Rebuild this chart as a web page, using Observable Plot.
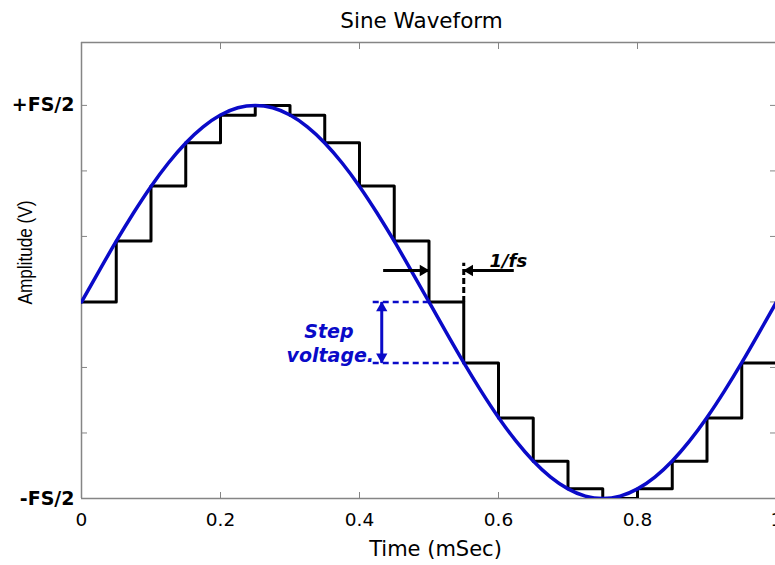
<!DOCTYPE html>
<html><head><meta charset="utf-8">
<script src="https://cdn.jsdelivr.net/npm/d3@7"></script>
<script src="https://cdn.jsdelivr.net/npm/@observablehq/plot@0.6"></script>
<style>body{margin:0;background:#fff} svg{display:block}</style>
</head><body><div id="chart"></div>
<script>
// ---- data ----
const sampleTimes  = [0, 0.05, 0.10, 0.15, 0.20, 0.25, 0.30, 0.35, 0.40, 0.45, 0.50, 0.55, 0.60, 0.65, 0.70, 0.75, 0.80, 0.85, 0.90, 0.95, 1.00];
const sampleValues = [0, 0.31, 0.59, 0.81, 0.95, 1.00, 0.95, 0.81, 0.59, 0.31, 0, -0.31, -0.59, -0.81, -0.95, -1.00, -0.95, -0.81, -0.59, -0.31, 0];
const sineTimes  = [0, 0.025, 0.05, 0.075, 0.10, 0.125, 0.15, 0.175, 0.20, 0.225, 0.25, 0.275, 0.30, 0.325, 0.35, 0.375, 0.40, 0.425, 0.45, 0.475, 0.50,
                    0.525, 0.55, 0.575, 0.60, 0.625, 0.65, 0.675, 0.70, 0.725, 0.75, 0.775, 0.80, 0.825, 0.85, 0.875, 0.90, 0.925, 0.95, 0.975, 1.00];
const sineValues = [0, 0.156, 0.309, 0.454, 0.588, 0.707, 0.809, 0.891, 0.951, 0.988, 1, 0.988, 0.951, 0.891, 0.809, 0.707, 0.588, 0.454, 0.309, 0.156, 0,
                    -0.156, -0.309, -0.454, -0.588, -0.707, -0.809, -0.891, -0.951, -0.988, -1, -0.988, -0.951, -0.891, -0.809, -0.707, -0.588, -0.454, -0.309, -0.156, 0];
const xTicks = [0, 0.2, 0.4, 0.6, 0.8, 1];
const xTickLabels = ["0", "0.2", "0.4", "0.6", "0.8", "1"];
const yTicks = [-1, -2/3, -1/3, 0, 1/3, 2/3, 1];
const yTickLabels = ["-FS/2", "", "", "", "", "", "+FS/2"];
const yDomain = [-1, 1.32];
const xDomain = [0, 1];
const titleText = "Sine Waveform";
const xLabelText = "Time (mSec)";
const yLabelText = "Amplitude (V)";
// annotations (data coordinates)
const periodArrows = [ {x1: 0.434, x2: 0.50, y: 0.16}, {x1: 0.622, x2: 0.55, y: 0.16} ];
const periodMarker = {x: 0.55, y1: 0, y2: 0.20};
const periodLabel = {x: 0.587, y: 0.18, text: "1/fs"};
const stepLevels = [ {x1: 0.419, x2: 0.50, y: 0}, {x1: 0.419, x2: 0.55, y: -0.31} ];
const stepArrow = {x: 0.432, y1: 0, y2: -0.31};
const stepLabels = [ {x: 0.356, y: -0.181, text: "Step"}, {x: 0.358, y: -0.303, text: "voltage."} ];

// ---- tables ----
const steps = sampleTimes.map((t, i) => ({t, v: sampleValues[i]}));
const sine = sineTimes.map((t, i) => ({t, v: sineValues[i]}));
const xLab = new Map(xTicks.map((t, i) => [t, xTickLabels[i]]));
const yLab = new Map(yTicks.map((t, i) => [t, yTickLabels[i]]));

const BLUE = "#0a0ac8";
const GREY = "#858585";
const W = 775, H = 565;
const mL = 81, mT = 42, mB = 67, mR = 0;

const chart = Plot.plot({
  width: W, height: H,
  marginLeft: mL, marginRight: mR, marginTop: mT, marginBottom: mB,
  style: {fontFamily: "DejaVu Sans", background: "white", color: "black", overflow: "visible"},
  x: {domain: xDomain, range: [mL, W + 1]},
  y: {domain: yDomain},
  marks: [
    // frame
    Plot.ruleX([xDomain[0]], {stroke: GREY, strokeWidth: 1.5}),
    Plot.ruleY([yDomain[0]], {stroke: GREY, strokeWidth: 1.5}),
    Plot.ruleY([yDomain[1]], {stroke: GREY, strokeWidth: 1.5}),
    // inward ticks on all sides
    Plot.axisX(xTicks, {anchor: "bottom", tickSize: -6, tickFormat: () => "", stroke: GREY, label: null}),
    Plot.axisX(xTicks, {anchor: "top", tickSize: -6, tickFormat: () => "", stroke: GREY, label: null}),
    Plot.axisY(yTicks, {anchor: "left", tickSize: -6, tickFormat: () => "", stroke: GREY, label: null}),
    Plot.axisY(yTicks, {anchor: "right", tickSize: -6, tickFormat: () => "", stroke: GREY, label: null}),
    // tick labels
    Plot.axisX(xTicks, {anchor: "bottom", tickSize: 0, tickPadding: 14, tickFormat: d => xLab.get(d), fontSize: 18.5, fill: "black", label: null}),
    Plot.axisY(yTicks, {anchor: "left", tickSize: 0, tickPadding: 7, tickFormat: d => yLab.get(d), fontSize: 19, fontWeight: "bold", fill: "black", label: null}),
    // data
    Plot.line(steps, {x: "t", y: "v", curve: "step-after", stroke: "black", strokeWidth: 3, clip: true}),
    Plot.line(sine, {x: "t", y: "v", curve: "natural", stroke: BLUE, strokeWidth: 3.5, clip: true}),
    // 1/fs annotation
    Plot.link(periodArrows, {x1: "x1", x2: "x2", y1: "y", y2: "y", stroke: "black", strokeWidth: 3}),
    Plot.dot([periodArrows[0]], {x: "x2", y: "y", symbol: "triangle", r: 4.2, fill: "black", rotate: 90, dx: -6}),
    Plot.dot([periodArrows[1]], {x: "x2", y: "y", symbol: "triangle", r: 4.2, fill: "black", rotate: -90, dx: 6}),
    Plot.link([periodMarker], {x1: "x", x2: "x", y1: "y1", y2: "y2", stroke: "black", strokeWidth: 3, strokeDasharray: "6,3"}),
    Plot.text([periodLabel], {x: "x", y: "y", text: "text", textAnchor: "start", lineAnchor: "bottom", fontSize: 18, fontWeight: "bold", fontStyle: "italic", fill: "black"}),
    // step voltage annotation
    Plot.link(stepLevels, {x1: "x1", x2: "x2", y1: "y", y2: "y", stroke: BLUE, strokeWidth: 2.5, strokeDasharray: "6,4"}),
    Plot.link([stepArrow], {x1: "x", x2: "x", y1: "y1", y2: "y2", stroke: BLUE, strokeWidth: 3}),
    Plot.dot([stepArrow], {x: "x", y: "y1", symbol: "triangle", r: 4.2, fill: BLUE, rotate: 0, dy: 6}),
    Plot.dot([stepArrow], {x: "x", y: "y2", symbol: "triangle", r: 4.2, fill: BLUE, rotate: 180, dy: -6}),
    Plot.text(stepLabels, {x: "x", y: "y", text: "text", textAnchor: "middle", lineAnchor: "bottom", fontSize: 19, fontWeight: "bold", fontStyle: "italic", fill: BLUE}),
    // titles
    Plot.text([titleText], {text: d => d, frameAnchor: "top", textAnchor: "middle", dx: -7, dy: -15, lineAnchor: "bottom", fontSize: 21.5, fill: "black"}),
    Plot.text([xLabelText], {text: d => d, frameAnchor: "bottom", textAnchor: "middle", dx: 7, dy: 57, lineAnchor: "bottom", fontSize: 21, fill: "black"}),
    Plot.text([yLabelText], {text: d => d, frameAnchor: "left", textAnchor: "middle", dx: -50, dy: -18, rotate: -90, lineAnchor: "bottom", fontSize: 21, fontFamily: "Liberation Sans", fill: "black"})
  ]
});
// the reference's lettering is stretched sideways: squeeze the rotated label along its length to match
d3.select(chart).selectAll("text").filter(function () { return this.textContent === yLabelText; })
  .attr("textLength", 104).attr("lengthAdjust", "spacingAndGlyphs");
document.getElementById("chart").appendChild(chart);
</script>
</body></html>
